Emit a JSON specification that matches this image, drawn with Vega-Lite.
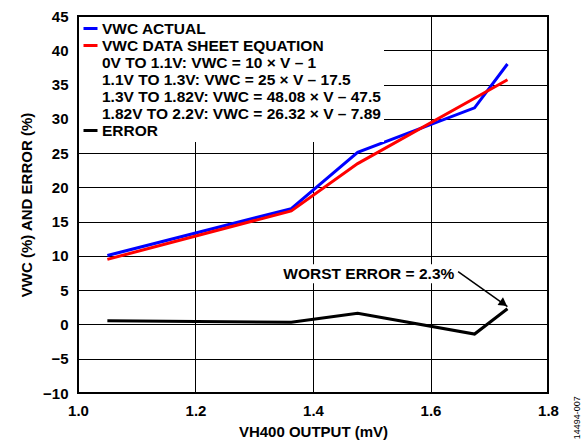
{
  "$schema": "https://vega.github.io/schema/vega-lite/v6.json",
  "width": 470,
  "height": 377,
  "autosize": {"type": "none"},
  "padding": {"left": 78, "top": 16, "right": 39, "bottom": 50},
  "background": "white",
  "config": {
    "view": {"stroke": "black", "strokeWidth": 2},
    "font": "Liberation Sans"
  },
  "encoding": {
    "x": {
      "field": "v",
      "type": "quantitative",
      "scale": {"domain": [1, 1.8], "nice": false, "zero": false},
      "axis": {
        "title": "VH400 OUTPUT (mV)",
        "values": [1, 1.2, 1.4, 1.6, 1.8],
        "format": ".1f",
        "grid": true,
        "gridColor": "black",
        "gridOpacity": 1,
        "gridWidth": 1,
        "domain": false,
        "ticks": false,
        "labelPadding": 10,
        "labelFont": "Liberation Sans",
        "labelFontWeight": "bold",
        "labelFontSize": 15,
        "labelColor": "black",
        "labelFlush": false,
        "titleFont": "Liberation Sans",
        "titleFontSize": 15,
        "titleFontWeight": "bold",
        "titleColor": "black",
        "titlePadding": 6
      }
    },
    "y": {
      "field": "y",
      "type": "quantitative",
      "scale": {"domain": [-10, 45], "nice": false, "zero": false},
      "axis": {
        "title": "VWC (%) AND ERROR (%)",
        "values": [-10, -5, 0, 5, 10, 15, 20, 25, 30, 35, 40, 45],
        "grid": true,
        "gridColor": "black",
        "gridOpacity": 1,
        "gridWidth": 1,
        "domain": false,
        "ticks": false,
        "labelPadding": 10,
        "labelFont": "Liberation Sans",
        "labelFontWeight": "bold",
        "labelFontSize": 15,
        "labelColor": "black",
        "labelFlush": false,
        "titleFont": "Liberation Sans",
        "titleFontSize": 15,
        "titleFontWeight": "bold",
        "titleColor": "black",
        "titlePadding": 8
      }
    }
  },
  "layer": [
    {
      "data": {"values": [{"v": 1.345, "v2": 1.645, "y": 6.0, "y2": 8.8}]},
      "mark": {"type": "rect", "fill": "white", "stroke": null},
      "encoding": {
        "x2": {"field": "v2"},
        "y2": {"field": "y2"}
      }
    },
    {
      "data": {
        "values": [
          {"v": 1.05, "y": 10.05, "series": "VWC ACTUAL"},
          {"v": 1.363, "y": 16.9, "series": "VWC ACTUAL"},
          {"v": 1.476, "y": 25.1, "series": "VWC ACTUAL"},
          {"v": 1.675, "y": 31.6, "series": "VWC ACTUAL"},
          {"v": 1.731, "y": 38.0, "series": "VWC ACTUAL"},
          {"v": 1.05, "y": 9.5, "series": "VWC DATA SHEET EQUATION"},
          {"v": 1.363, "y": 16.57, "series": "VWC DATA SHEET EQUATION"},
          {"v": 1.476, "y": 23.47, "series": "VWC DATA SHEET EQUATION"},
          {"v": 1.675, "y": 33.0, "series": "VWC DATA SHEET EQUATION"},
          {"v": 1.731, "y": 35.7, "series": "VWC DATA SHEET EQUATION"},
          {"v": 1.05, "y": 0.55, "series": "ERROR"},
          {"v": 1.363, "y": 0.33, "series": "ERROR"},
          {"v": 1.476, "y": 1.63, "series": "ERROR"},
          {"v": 1.675, "y": -1.4, "series": "ERROR"},
          {"v": 1.731, "y": 2.3, "series": "ERROR"}
        ]
      },
      "mark": {"type": "line", "strokeWidth": 3},
      "encoding": {
        "color": {
          "field": "series",
          "type": "nominal",
          "scale": {
            "domain": [
              "VWC ACTUAL",
              "VWC DATA SHEET EQUATION",
              "0V TO 1.1V: VWC = 10 × V – 1",
              "1.1V TO 1.3V: VWC = 25 × V – 17.5",
              "1.3V TO 1.82V: VWC = 48.08 × V – 47.5",
              "1.82V TO 2.2V: VWC = 26.32 × V – 7.89",
              "ERROR"
            ],
            "range": ["#0000ff", "#ff0000", "transparent", "transparent", "transparent", "transparent", "#000000"]
          },
          "legend": {
            "title": null,
            "orient": "top-left",
            "offset": 1,
            "padding": 3,
            "fillColor": "white",
            "symbolType": "stroke",
            "symbolSize": 196,
            "symbolStrokeWidth": 3,
            "labelFont": "Liberation Sans",
            "labelFontWeight": "bold",
            "labelFontSize": 15.5,
            "labelColor": "black",
            "labelLimit": 500,
            "labelOffset": 3,
            "rowPadding": -1.8
          }
        }
      }
    },
    {
      "data": {"values": [{"v": 1.495, "y": 7.4, "label": "WORST ERROR = 2.3%"}]},
      "mark": {"type": "text", "font": "Liberation Sans", "fontWeight": "bold", "fontSize": 15.5, "color": "black", "align": "center", "baseline": "middle"},
      "encoding": {"text": {"field": "label"}}
    },
    {
      "data": {"values": [{"v": 1.647, "y": 7.7, "v2": 1.731, "y2": 2.6}]},
      "mark": {"type": "rule", "color": "black", "strokeWidth": 1.5},
      "encoding": {"x2": {"field": "v2"}, "y2": {"field": "y2"}}
    },
    {
      "data": {"values": [{"v": 1.7245, "y": 3.05}]},
      "mark": {"type": "point", "shape": "triangle-right", "filled": true, "color": "black", "opacity": 1, "size": 90, "angle": 35},
      "encoding": {}
    },
    {
      "data": {"values": [{"v": 1.849, "y": -13.6, "label": "14494-007"}]},
      "mark": {"type": "text", "font": "Liberation Sans", "fontSize": 9, "color": "black", "angle": 270, "align": "center", "baseline": "middle"},
      "encoding": {"text": {"field": "label"}}
    }
  ]
}
